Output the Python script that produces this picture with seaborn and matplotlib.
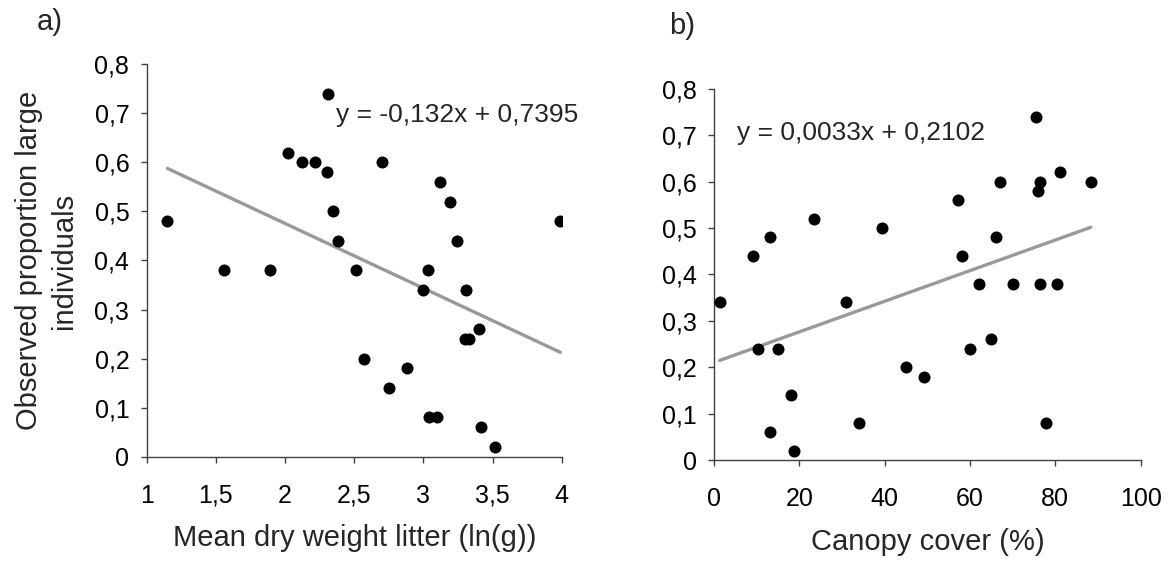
import numpy as np
import pandas as pd
import matplotlib
matplotlib.use("Agg")
import matplotlib.pyplot as plt
import seaborn as sns

# ---- data ----
litter_x = [1.15, 1.56, 1.89, 2.02, 2.12, 2.22, 2.30, 2.35, 2.38, 2.51, 2.31, 2.70,
            3.12, 3.19, 3.24, 3.99, 3.03, 3.00, 3.31, 3.40, 3.30, 3.33, 2.57, 2.88,
            2.75, 3.04, 3.10, 3.42, 3.52]
litter_y = [0.48, 0.38, 0.38, 0.62, 0.60, 0.60, 0.58, 0.50, 0.44, 0.38, 0.74, 0.60,
            0.56, 0.52, 0.44, 0.48, 0.38, 0.34, 0.34, 0.26, 0.24, 0.24, 0.20, 0.18,
            0.14, 0.08, 0.08, 0.06, 0.02]

canopy_x = [1.3, 9.1, 13.2, 23.4, 39.3, 30.9, 10.2, 15.0, 44.9, 49.3, 18.0, 33.9,
            13.1, 18.7, 75.5, 67.0, 76.5, 75.9, 81.0, 88.3, 57.2, 66.1, 58.1, 62.1,
            70.0, 76.5, 80.3, 64.9, 59.9, 77.8]
canopy_y = [0.34, 0.44, 0.48, 0.52, 0.50, 0.34, 0.24, 0.24, 0.20, 0.18, 0.14, 0.08,
            0.06, 0.02, 0.74, 0.60, 0.60, 0.58, 0.62, 0.60, 0.56, 0.48, 0.44, 0.38,
            0.38, 0.38, 0.38, 0.26, 0.24, 0.08]

# trendline equations shown on the chart
fit_a = (-0.132, 0.7395)
fit_b = (0.0033, 0.2102)

xticks_a = [1, 1.5, 2, 2.5, 3, 3.5, 4]
xticklabels_a = ["1", "1,5", "2", "2,5", "3", "3,5", "4"]
xticks_b = [0, 20, 40, 60, 80, 100]
xticklabels_b = ["0", "20", "40", "60", "80", "100"]
yticks = [0, 0.1, 0.2, 0.3, 0.4, 0.5, 0.6, 0.7, 0.8]
yticklabels = ["0", "0,1", "0,2", "0,3", "0,4", "0,5", "0,6", "0,7", "0,8"]

eq_a = "y = -0,132x + 0,7395"
eq_b = "y = 0,0033x + 0,2102"

# ---- style ----
sns.set_style("ticks")
plt.rcParams["font.family"] = ["Liberation Sans", "DejaVu Sans"]

fig = plt.figure(figsize=(11.69, 5.65), dpi=100)
ax_a = fig.add_axes([0.1255, 0.1917, 0.3550, 0.6945])
ax_b = fig.add_axes([0.6108, 0.1858, 0.3650, 0.6570])

tick_fs = 18
eq_fs = 19
label_fs = 21
line_col = "#999999"
spine_col = "#404040"


def draw(ax, xs, ys, fit, xlim, xticks, xticklabels, eq, eq_pos):
    df = pd.DataFrame({"x": xs, "y": ys})
    x0, x1 = min(xs), max(xs)
    line = pd.DataFrame({"x": [x0, x1], "y": [fit[0] * x0 + fit[1], fit[0] * x1 + fit[1]]})
    sns.lineplot(data=line, x="x", y="y", ax=ax, color=line_col, linewidth=2.4, zorder=2)
    sns.scatterplot(data=df, x="x", y="y", ax=ax, color="black", s=75,
                    edgecolor="black", linewidth=0, zorder=3)
    ax.set_xlim(*xlim)
    ax.set_ylim(0, 0.8)
    ax.set_xticks(xticks)
    ax.set_xticklabels(xticklabels)
    ax.set_yticks(yticks)
    ax.set_yticklabels(yticklabels)
    for s in ["top", "right"]:
        ax.spines[s].set_visible(False)
    for s in ["left", "bottom"]:
        ax.spines[s].set_color(spine_col)
        ax.spines[s].set_linewidth(1.0)
    ax.tick_params(axis="both", direction="out", length=4.5, width=1.0,
                   color=spine_col, labelsize=tick_fs, labelcolor="black")
    ax.tick_params(axis="x", pad=15)
    ax.tick_params(axis="y", pad=8)
    ax.text(eq_pos[0], eq_pos[1], eq, fontsize=eq_fs, ha="left", va="center")


draw(ax_a, litter_x, litter_y, fit_a, (1, 4), xticks_a, xticklabels_a, eq_a, (2.37, 0.697))
draw(ax_b, canopy_x, canopy_y, fit_b, (0, 100), xticks_b, xticklabels_b, eq_b, (5.3, 0.705))

ax_a.set_xlabel("Mean dry weight litter (ln(g))", fontsize=label_fs, labelpad=12)
ax_a.set_ylabel("Observed proportion large\nindividuals", fontsize=label_fs, labelpad=12,
                linespacing=1.3)
ax_b.set_xlabel("Canopy cover (%)", fontsize=label_fs, labelpad=12)
ax_b.set_ylabel("")

fig.text(50 / 1169, 1 - 22 / 565, "a)", fontsize=label_fs, ha="center", va="center")
fig.text(682 / 1169, 1 - 26 / 565, "b)", fontsize=label_fs, ha="center", va="center")

fig.savefig("out.png", dpi=100, facecolor="white")
